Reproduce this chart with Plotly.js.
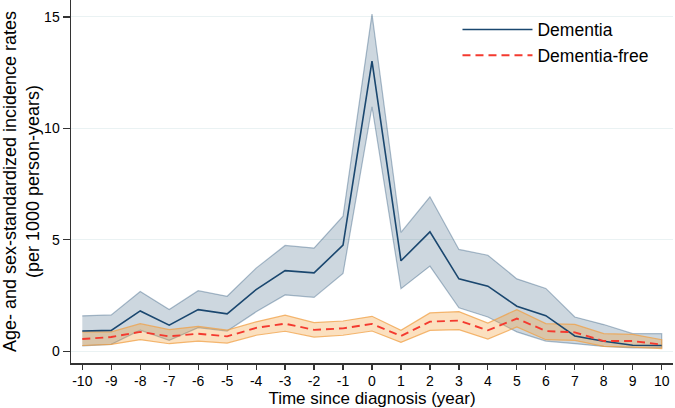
<!DOCTYPE html>
<html>
<head>
<meta charset="utf-8">
<script src="https://cdn.plot.ly/plotly-3.0.1.min.js"></script>
<style>html,body{margin:0;padding:0;background:#fff;}#chart{width:675px;height:408px;}</style>
</head>
<body>
<div id="chart"></div>
<script>
var years = [-10,-9,-8,-7,-6,-5,-4,-3,-2,-1,0,1,2,3,4,5,6,7,8,9,10];

var dementiaRate  = [0.91,0.94,1.81,1.17,1.87,1.68,2.77,3.62,3.52,4.76,13.02,4.06,5.36,3.25,2.92,2.02,1.60,0.69,0.45,0.27,0.26];
var dementiaUpper = [1.59,1.63,2.68,1.87,2.72,2.47,3.73,4.75,4.63,6.06,15.13,5.33,6.93,4.57,4.31,3.25,2.82,1.54,1.20,0.79,0.79];
var dementiaLower = [0.24,0.31,0.95,0.49,1.06,0.91,1.77,2.53,2.42,3.49,10.97,2.81,3.82,1.95,1.54,0.87,0.46,0.34,0.22,0.15,0.15];

var freeRate  = [0.55,0.64,0.87,0.67,0.79,0.67,1.05,1.24,0.96,1.03,1.23,0.69,1.33,1.38,0.94,1.47,0.91,0.85,0.46,0.46,0.30];
var freeUpper = [0.87,0.87,1.24,0.97,1.12,0.95,1.32,1.62,1.29,1.36,1.57,0.94,1.72,1.78,1.27,1.87,1.24,1.21,0.79,0.76,0.52];
var freeLower = [0.26,0.31,0.52,0.34,0.46,0.37,0.72,0.90,0.64,0.72,0.91,0.40,0.94,0.97,0.55,1.09,0.52,0.49,0.22,0.19,0.12];

var yTicks = [0,5,10,15];

function band(x, up, lo) {
  return {
    x: x.concat(x.slice().reverse()),
    y: up.concat(lo.slice().reverse())
  };
}

var bD = band(years, dementiaUpper, dementiaLower);
var bF = band(years, freeUpper, freeLower);

var traces = [
  {x: bD.x, y: bD.y, type: 'scatter', mode: 'lines', fill: 'toself',
   fillcolor: 'rgba(26,71,111,0.22)', line: {color: 'rgba(26,71,111,0.35)', width: 1.2},
   showlegend: false, hoverinfo: 'skip'},
  {x: bF.x, y: bF.y, type: 'scatter', mode: 'lines', fill: 'toself',
   fillcolor: 'rgba(244,160,60,0.33)', line: {color: 'rgba(240,160,70,0.75)', width: 1.2},
   showlegend: false, hoverinfo: 'skip'},
  {x: years, y: dementiaRate, type: 'scatter', mode: 'lines', name: 'Dementia',
   line: {color: '#1a476f', width: 1.6}},
  {x: years, y: freeRate, type: 'scatter', mode: 'lines', name: 'Dementia-free',
   line: {color: '#f43a2f', width: 1.9, dash: '8px,5px'}}
];

var layout = {
  width: 675, height: 408,
  margin: {l: 71, r: 2, t: 0, b: 45},
  paper_bgcolor: '#fff', plot_bgcolor: '#fff',
  font: {family: 'Liberation Sans, Arial, sans-serif', color: '#000'},
  showlegend: true,
  legend: {x: 0.642, y: 0.968, xanchor: 'left', yanchor: 'top',
           font: {size: 17.5, color: '#000'}, bgcolor: 'rgba(0,0,0,0)',
           itemwidth: 70, tracegroupgap: 0},
  xaxis: {
    range: [-10.39, 10.39], tickvals: years, ticktext: years.map(String),
    ticks: 'outside', ticklen: 5, tickwidth: 1.2, tickcolor: '#333',
    showline: true, linecolor: '#333', linewidth: 1.5,
    showgrid: false, zeroline: false,
    tickfont: {size: 14},
    title: {text: 'Time since diagnosis (year)', font: {size: 17}, standoff: 0}
  },
  yaxis: {
    range: [-0.525, 15.76], tickvals: yTicks, ticktext: yTicks.map(String),
    ticks: 'outside', ticklen: 7, tickwidth: 1.2, tickcolor: '#333',
    showline: true, linecolor: '#333', linewidth: 1.5,
    showgrid: true, gridcolor: '#eaf2f3', gridwidth: 1, zeroline: false,
    tickfont: {size: 14},
    title: {text: 'Age- and sex-standardized incidence rates<br>(per 1000 person-years)', font: {size: 18}, standoff: 6}
  }
};

Plotly.newPlot('chart', traces, layout, {displayModeBar: false, staticPlot: true});
</script>
</body>
</html>
